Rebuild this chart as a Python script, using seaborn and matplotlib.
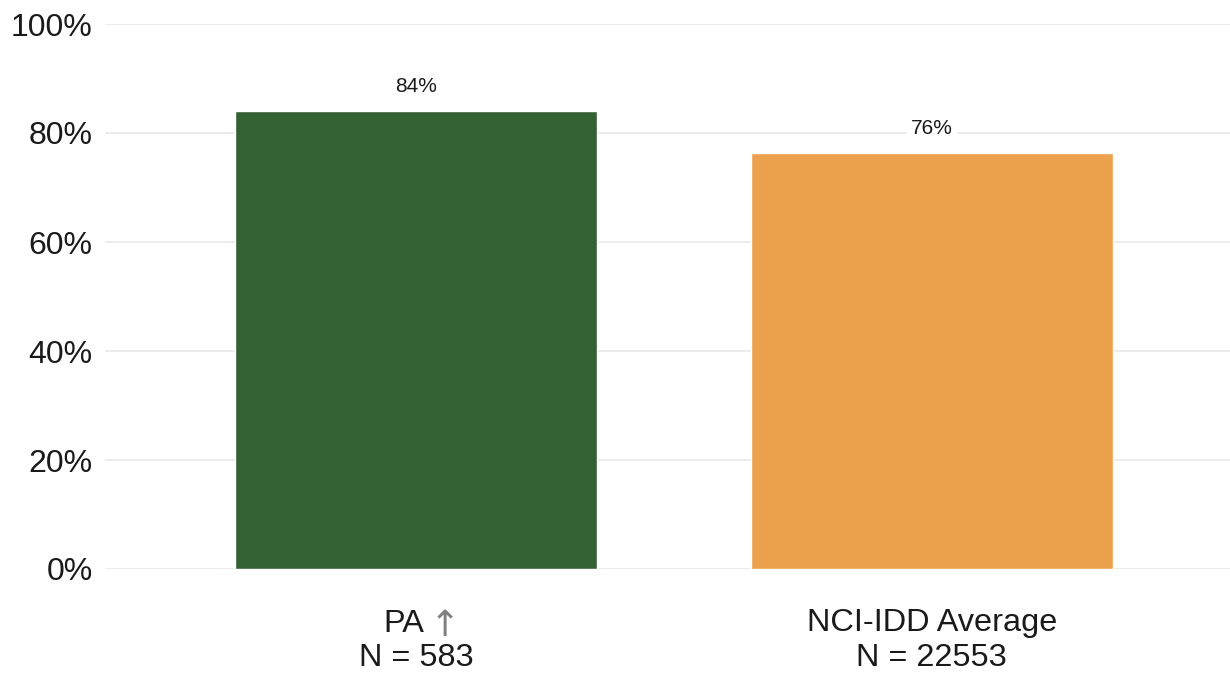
import matplotlib
matplotlib.use("Agg")
import matplotlib.pyplot as plt
import matplotlib.transforms as mtransforms
import seaborn as sns
import pandas as pd

# chart data
categories = ["PA", "NCI-IDD Average"]
values = [84.0, 76.3]
sample_sizes = [583, 22553]
bar_colors = ["#336133", "#eca14c"]
y_ticks = [0, 20, 40, 60, 80, 100]

sns.set_theme(style="white")
plt.rcParams["font.family"] = ["Liberation Sans", "DejaVu Sans"]

df = pd.DataFrame({"category": categories, "value": values})

fig = plt.figure(figsize=(12.3, 6.77), dpi=100)
ax = fig.add_axes([105 / 1230, 1 - 569 / 677, 1 - 105 / 1230, (569 - 24) / 677])

sns.barplot(data=df, x="category", y="value", hue="category",
            palette=bar_colors, width=0.703, saturation=1, legend=False, ax=ax)

ax.set_ylim(0, 100)
ax.set_xlim(-0.603, 1.578)
ax.set_yticks(y_ticks)
ax.set_yticklabels([f"{t}%" for t in y_ticks], fontsize=23, color="#1a1a1a")
ax.tick_params(axis="y", length=0, pad=9)
ax.yaxis.grid(True, color="#ebebeb", linewidth=1.3)
ax.set_axisbelow(True)
for s in ax.spines.values():
    s.set_visible(False)
ax.set_xlabel("")
ax.set_ylabel("")
ax.set_xticks(range(len(categories)))
ax.set_xticklabels([])
ax.tick_params(axis="x", length=0)

# value labels above bars
for i, v in enumerate(values):
    ax.text(i, v + 4.6, f"{round(v)}%", ha="center", va="center",
            fontsize=15, color="#1a1a1a",
            bbox=dict(facecolor="white", edgecolor="none", pad=3))

# category labels below axis
xt = ax.get_xaxis_transform()
for i, (cat, n) in enumerate(zip(categories, sample_sizes)):
    if cat == "PA":
        t_left = mtransforms.offset_copy(xt, fig=fig, x=6, y=0, units="points")
        t_right = mtransforms.offset_copy(xt, fig=fig, x=10, y=-1.5, units="points")
        ax.text(i, -0.1, "PA", transform=t_left, ha="right", va="center",
                fontsize=23.4, color="#1a1a1a")
        ax.text(i, -0.1, "\u2191", transform=t_right, ha="left", va="center",
                fontsize=26, color="#808080", family="DejaVu Sans")
    else:
        ax.text(i, -0.1, cat, transform=xt, ha="center", va="center",
                fontsize=23.4, color="#1a1a1a")
    ax.text(i, -0.163, f"N = {n}", transform=xt, ha="center", va="center",
            fontsize=23.4, color="#1a1a1a")

fig.savefig("out.png", dpi=100)
